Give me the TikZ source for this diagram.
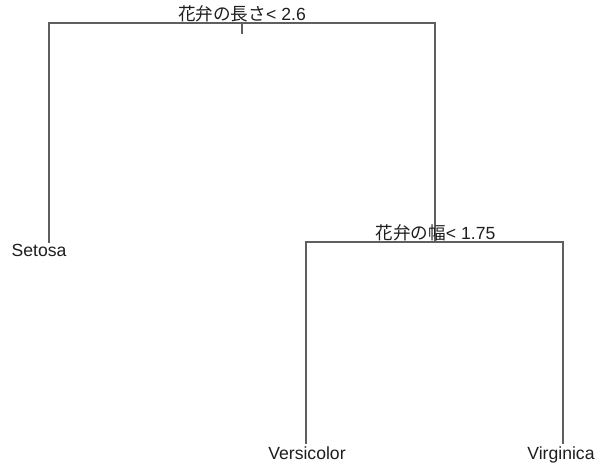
\documentclass[tikz,border=0pt]{standalone}
\usepackage{fontspec}
\setmainfont{Liberation Sans}
\newfontfamily\jpfont{Noto Sans CJK JP}
\definecolor{branch}{RGB}{95,95,95}
\definecolor{labeltext}{RGB}{30,30,30}
\begin{document}
\begin{tikzpicture}[x=1pt,y=-1pt,
  branchline/.style={draw=branch,line width=1.6pt,line cap=rect},
  lbl/.style={anchor=base,inner sep=0pt,text=labeltext,font=\fontsize{17.6}{20}\selectfont}]
\useasboundingbox[fill=white] (0,0) rectangle (598,463);
% junction coordinates
\coordinate (root) at (242,23);
\coordinate (roottick) at (242,33);
\coordinate (rootL) at (49,23);
\coordinate (rootR) at (435,23);
\coordinate (setosaEnd) at (49,242);
\coordinate (n2) at (435,242);
\coordinate (n2L) at (306,242);
\coordinate (n2R) at (563,242);
\coordinate (versEnd) at (306,443);
\coordinate (virgEnd) at (563,443);
% branches
\draw[branchline] (root) -- (roottick);
\draw[branchline] (setosaEnd) -- (rootL) -- (rootR) -- (n2);
\draw[branchline] (versEnd) -- (n2L) -- (n2R) -- (virgEnd);
% labels
\node[lbl] (split1) at (242,20) {{\jpfont 花弁の長さ}< 2.6};
\node[lbl] (split2) at (435.5,239.5) {{\jpfont 花弁の幅}< 1.75};
\node[lbl] (setosa) at (39,256) {Setosa};
\node[lbl] (versicolor) at (307,459) {Versicolor};
\node[lbl] (virginica) at (561,459) {Virginica};
\end{tikzpicture}
\end{document}
